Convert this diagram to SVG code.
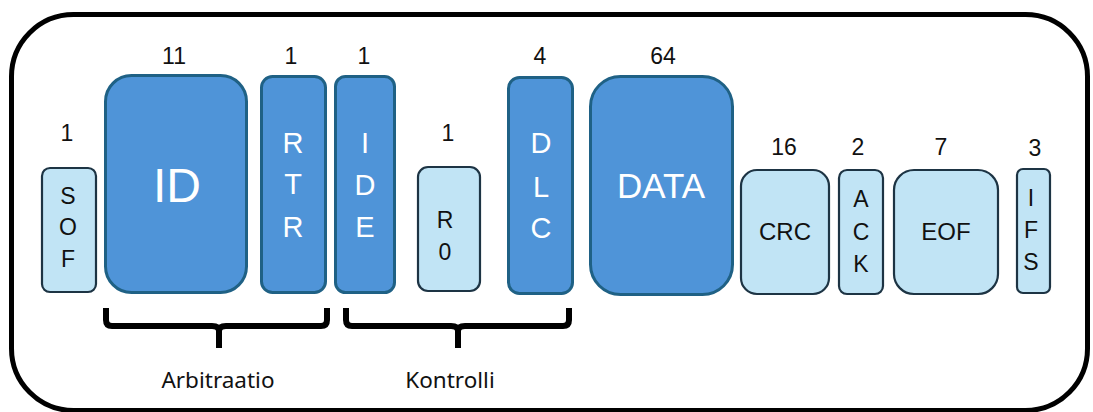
<svg xmlns="http://www.w3.org/2000/svg" width="1093" height="412" viewBox="0 0 1093 412">
  <style>
    .dark { fill: #4F94D8; stroke: #1F6185; stroke-width: 3; }
    .light { fill: #C1E4F5; stroke: #1D3444; stroke-width: 2.2; }
    .num { font-family: "Liberation Sans", Arial, sans-serif; font-size: 23px; fill: #111; text-anchor: middle; }
    .w { font-family: "Liberation Sans", Arial, sans-serif; fill: #FFFFFF; text-anchor: middle; }
    .b { font-family: "Liberation Sans", Arial, sans-serif; fill: #111; text-anchor: middle; }
    .lbl { font-family: "Noto Sans", "Liberation Sans", sans-serif; font-size: 22.5px; fill: #111; text-anchor: middle; }
    .brace { fill: none; stroke: #000; stroke-width: 6; stroke-linejoin: round; }
  </style>

  <rect width="1093" height="412" fill="#FFFFFF"/>

  <!-- outer frame -->
  <rect x="11.5" y="14.5" width="1076" height="396" rx="62" fill="none" stroke="#000" stroke-width="5"/>

  <!-- bit counts -->
  <g id="counts">
    <text class="num" x="67" y="141">1</text>
    <text class="num" x="174" y="64">11</text>
    <text class="num" x="291" y="64">1</text>
    <text class="num" x="364" y="64">1</text>
    <text class="num" x="448" y="141">1</text>
    <text class="num" x="540" y="64">4</text>
    <text class="num" x="663" y="64">64</text>
    <text class="num" x="784" y="155">16</text>
    <text class="num" x="858" y="155">2</text>
    <text class="num" x="941" y="155">7</text>
    <text class="num" x="1035" y="156">3</text>
  </g>

  <g id="sof">
    <rect class="light" x="42" y="168" width="54" height="124" rx="8"/>
    <text class="b" font-size="23" x="68" y="204">S</text>
    <text class="b" font-size="23" x="68" y="235">O</text>
    <text class="b" font-size="23" x="68" y="267">F</text>
  </g>

  <g id="id">
    <rect class="dark" x="105.5" y="75.5" width="141" height="217" rx="26"/>
    <text class="w" font-size="48" x="177" y="202">ID</text>
  </g>

  <g id="rtr">
    <rect class="dark" x="261.5" y="76.5" width="64" height="216" rx="11"/>
    <text class="w" font-size="29" x="293" y="153">R</text>
    <text class="w" font-size="29" x="293" y="194">T</text>
    <text class="w" font-size="29" x="293" y="237">R</text>
  </g>

  <g id="ide">
    <rect class="dark" x="335.5" y="76.5" width="59" height="216" rx="10"/>
    <text class="w" font-size="29" x="365" y="153">I</text>
    <text class="w" font-size="29" x="365" y="195">D</text>
    <text class="w" font-size="29" x="365" y="237">E</text>
  </g>

  <g id="r0">
    <rect class="light" x="418" y="167" width="62" height="124" rx="10"/>
    <text class="b" font-size="23" x="445" y="228">R</text>
    <text class="b" font-size="23" x="445" y="260">0</text>
  </g>

  <g id="dlc">
    <rect class="dark" x="508.5" y="77.5" width="64" height="216" rx="11"/>
    <text class="w" font-size="29" x="541" y="153">D</text>
    <text class="w" font-size="29" x="541" y="197">L</text>
    <text class="w" font-size="29" x="541" y="238">C</text>
  </g>

  <g id="data">
    <rect class="dark" x="590.5" y="76.5" width="142" height="218" rx="30"/>
    <text class="w" font-size="35" x="661" y="198">DATA</text>
  </g>

  <g id="crc">
    <rect class="light" x="741" y="170" width="88" height="124" rx="16"/>
    <text class="b" font-size="24" x="785" y="240">CRC</text>
  </g>

  <g id="ack">
    <rect class="light" x="839" y="170" width="44" height="124" rx="8"/>
    <text class="b" font-size="23" x="861" y="207">A</text>
    <text class="b" font-size="23" x="861" y="240">C</text>
    <text class="b" font-size="23" x="861" y="272">K</text>
  </g>

  <g id="eof">
    <rect class="light" x="894" y="170" width="104" height="124" rx="20"/>
    <text class="b" font-size="24" x="946" y="240">EOF</text>
  </g>

  <g id="ifs">
    <rect class="light" x="1017" y="169" width="33" height="124" rx="6"/>
    <text class="b" font-size="23" x="1031" y="206">I</text>
    <text class="b" font-size="23" x="1031" y="238">F</text>
    <text class="b" font-size="23" x="1031" y="270">S</text>
  </g>

  <!-- field grouping braces -->
  <g id="connectors">
    <path class="brace" d="M106 308 V320 Q106 326 112 326 H212 Q219 326 219 331 V348 M219 331 Q219 326 226 326 H321 Q327 326 327 320 V308"/>
    <path class="brace" d="M346 308 V320 Q346 326 352 326 H451 Q458 326 458 331 V348 M458 331 Q458 326 465 326 H563 Q569 326 569 320 V308"/>
  </g>

  <g id="labels">
    <text class="lbl" x="218" y="388">Arbitraatio</text>
    <text class="lbl" x="450" y="388">Kontrolli</text>
  </g>
</svg>
